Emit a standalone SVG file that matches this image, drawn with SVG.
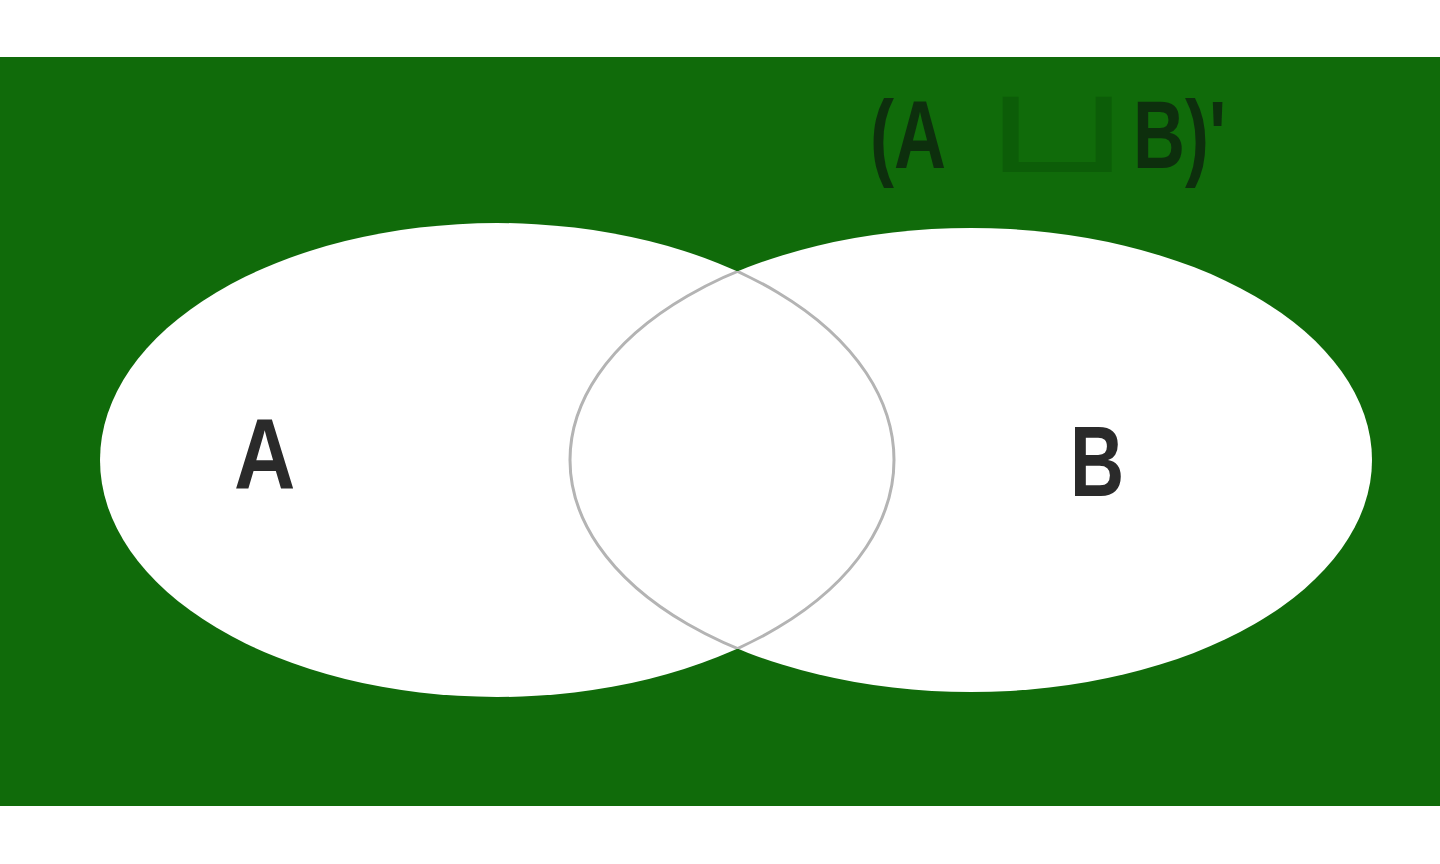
<svg xmlns="http://www.w3.org/2000/svg" width="1440" height="864" viewBox="0 0 1440 864">
<style>
.lbl{font-family:"Liberation Sans",Arial,sans-serif;font-weight:bold;fill:#2a2a2a}
.ttl{font-family:"Liberation Sans",Arial,sans-serif;font-weight:bold;fill:#0d2f0d}
.edge{fill:none;stroke:#b4b4b4;stroke-width:3}
</style>
<defs>
<clipPath id="clipA"><ellipse cx="497" cy="460" rx="397" ry="237"/></clipPath>
<clipPath id="clipB"><ellipse cx="971" cy="460" rx="401" ry="232"/></clipPath>
</defs>
<rect x="0" y="0" width="1440" height="864" fill="#ffffff"/>
<rect x="0" y="57" width="1440" height="749" fill="#106b0a"/>
<g id="setA">
<ellipse cx="497" cy="460" rx="397" ry="237" fill="#ffffff"/>
</g>
<g id="setB">
<ellipse cx="971" cy="460" rx="401" ry="232" fill="#ffffff"/>
</g>
<g id="connectors">
<ellipse class="edge" cx="497" cy="460" rx="397" ry="237" clip-path="url(#clipB)"/>
<ellipse class="edge" cx="971" cy="460" rx="401" ry="232" clip-path="url(#clipA)"/>
</g>
<g id="labelA"><text class="lbl" x="0" y="0" font-size="100" transform="translate(234,489) scale(0.85,1)">A</text></g>
<g id="labelB"><text class="lbl" x="0" y="0" font-size="100" transform="translate(1070,496) scale(0.75,1)">B</text></g>
<g id="title">
<text class="ttl" font-size="96" transform="translate(870,168) scale(0.75,1)">(A</text>
<text font-family="DejaVu Sans,sans-serif" font-size="120" fill="#0b5a08" fill-opacity="0.8" transform="translate(982,172) scale(1.6,1)">⊔</text>
<text class="ttl" font-size="96" transform="translate(1133,168) scale(0.75,1)">B)'</text>
</g>
</svg>
